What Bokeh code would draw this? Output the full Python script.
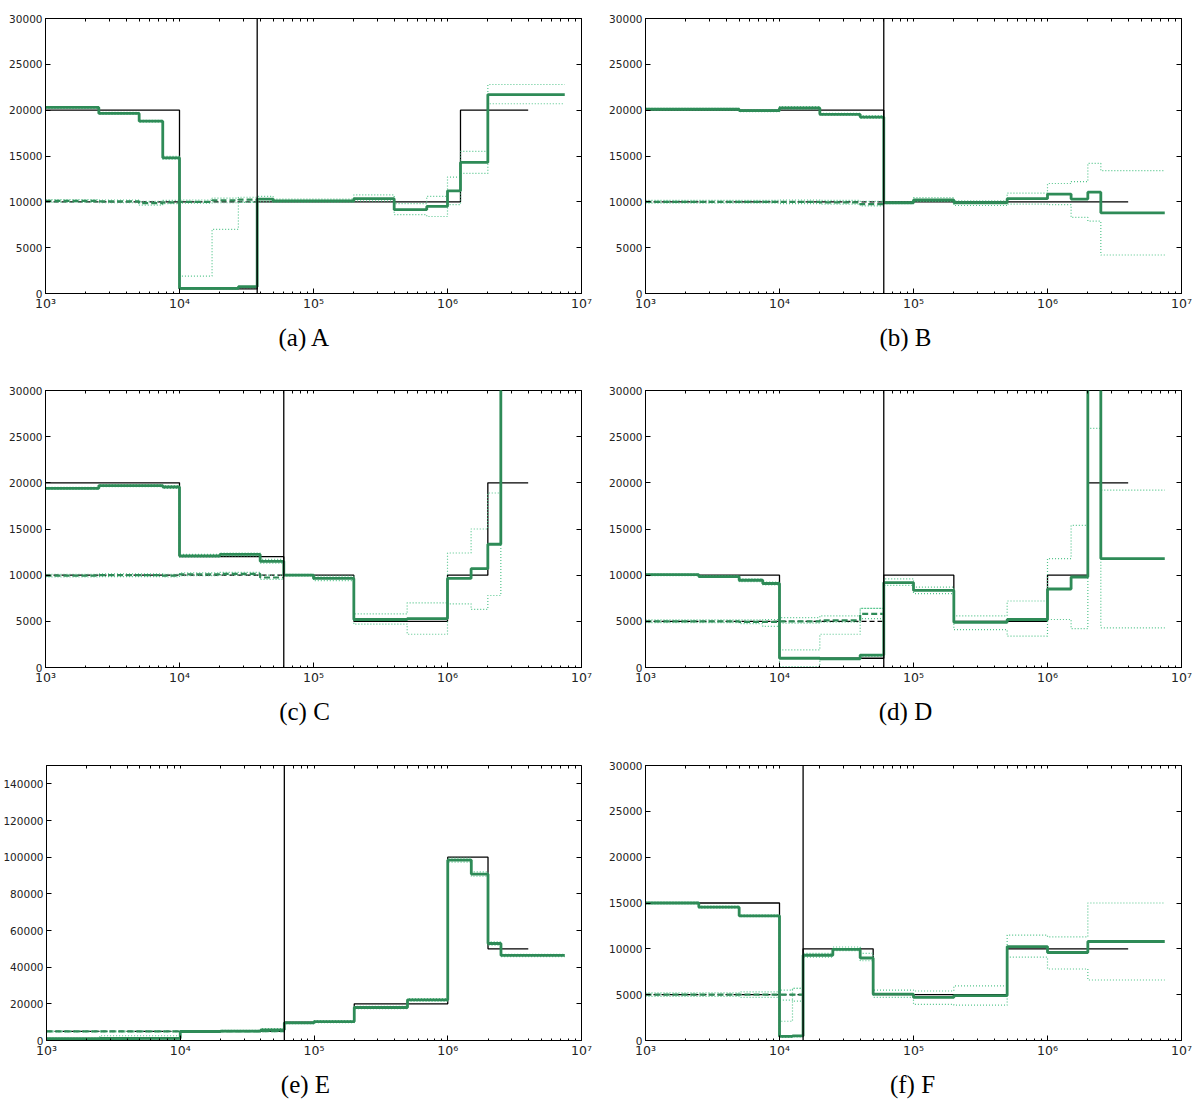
from bokeh.plotting import figure
from bokeh.models import Range1d, LogAxis, LinearAxis, FixedTicker, NumeralTickFormatter, Span, Title
from bokeh.layouts import column, row
from bokeh.embed import file_html
from bokeh.resources import INLINE

# ---------------- axis ticks ----------------
X_MAJOR = [1e3, 1e4, 1e5, 1e6, 1e7]
X_LABELS = ["10³", "10⁴", "10⁵", "10⁶", "10⁷"]
X_MINOR = [m * 10 ** e for e in range(3, 7) for m in range(2, 10)]
Y_TICKS_30K = [0, 5000, 10000, 15000, 20000, 25000, 30000]
Y_TICKS_150K = [0, 20000, 40000, 60000, 80000, 100000, 120000, 140000]

# ---------------- panel A ----------------
A_split = 3.8e4
A_true_edges = [1e3, 1e4, 3.8e4, 1.25e6, 4e6]
A_true_vals = [20000, 500, 10000, 20000]
A_true2_vals = [10000]
A_edges = [1e3, 2.5e3, 5e3, 7.5e3, 1e4, 1.75e4, 2.75e4, 3.8e4, 5e4, 2e5, 4e5, 7e5, 1e6, 1.25e6, 2e6, 7.5e6]
A_est = [20300, 19650, 18800, 14800, 550, 550, 750, 10300, 10100, 10350, 9150, 9500, 11200, 14300, 21700]
A_hi = [20400, 19750, 18900, 14950, 1900, 7000, 10000, 10600, 10300, 10750, 9800, 10600, 12700, 15500, 22800]
A_lo = [20200, 19550, 18700, 14650, 450, 450, 650, 10000, 9950, 10100, 8600, 8400, 9700, 13100, 20700]
A_est2 = [10100, 10050, 9850, 9950, 10000, 10150, 10250]
A_hi2 = [10250, 10200, 10050, 10150, 10200, 10400, 10500]
A_lo2 = [9950, 9900, 9650, 9800, 9850, 9900, 9950]

# ---------------- panel B ----------------
B_split = 6e4
B_true_edges = [1e3, 6e4, 4e6]
B_true_vals = [20000, 10000]
B_true2_vals = [10000]
B_edges = [1e3, 5e3, 1e4, 2e4, 4e4, 6e4, 1e5, 2e5, 5e5, 1e6, 1.5e6, 2e6, 2.5e6, 7.5e6]
B_est = [20100, 19950, 20250, 19550, 19250, 9900, 10200, 9900, 10350, 10850, 10300, 11050, 8800]
B_hi = [20200, 20050, 20400, 19650, 19400, 10000, 10450, 10100, 10950, 12000, 12200, 14200, 13400]
B_lo = [20000, 19850, 20100, 19450, 19100, 9800, 10050, 9600, 9750, 9700, 8300, 7900, 4200]
B_est2 = [10000, 10000, 10000, 9950, 9750]
B_hi2 = [10150, 10150, 10200, 10150, 10050]
B_lo2 = [9850, 9850, 9800, 9750, 9550]

# ---------------- panel C ----------------
C_split = 6e4
C_true_edges = [1e3, 1e4, 6e4, 2e5, 1e6, 2e6, 4e6]
C_true_vals = [20000, 12000, 10000, 5000, 10000, 20000]
C_true2_vals = [10000]
C_edges = [1e3, 2.5e3, 7.5e3, 1e4, 2e4, 4e4, 6e4, 1e5, 2e5, 5e5, 1e6, 1.5e6, 2e6, 2.5e6, 7.5e6]
C_est = [19400, 19700, 19550, 12100, 12250, 11500, 10000, 9650, 5200, 5300, 9650, 10700, 13350, 60000]
C_hi = [19500, 19800, 19700, 12250, 12400, 11700, 10100, 9900, 5800, 7000, 12400, 15000, 18900, 80000]
C_lo = [19300, 19600, 19400, 11950, 12100, 11300, 9900, 9400, 4700, 3600, 6900, 6300, 7800, 45000]
C_est2 = [9950, 10000, 9950, 10100, 10150, 9750]
C_hi2 = [10100, 10150, 10100, 10250, 10300, 10000]
C_lo2 = [9800, 9850, 9800, 9950, 10000, 9550]

# ---------------- panel D ----------------
D_split = 6e4
D_true_edges = [1e3, 1e4, 6e4, 2e5, 1e6, 2e6, 4e6]
D_true_vals = [10000, 1000, 10000, 5000, 10000, 20000]
D_true2_vals = [5000]
D_edges = [1e3, 2.5e3, 5e3, 7.5e3, 1e4, 2e4, 4e4, 6e4, 1e5, 2e5, 5e5, 1e6, 1.5e6, 2e6, 2.5e6, 7.5e6]
D_est = [10050, 9850, 9450, 9100, 1000, 950, 1350, 9200, 8350, 4900, 5200, 8500, 9800, 60000, 11800]
D_hi = [10150, 9950, 9600, 9250, 1900, 3600, 6400, 9600, 8700, 5600, 7200, 11800, 15400, 90000, 19200]
D_lo = [9950, 9750, 9300, 8950, 100, 900, 1200, 8900, 8000, 4100, 3400, 5200, 4200, 25900, 4300]
D_est2 = [5000, 5000, 4950, 4950, 5000, 5100, 5800]
D_hi2 = [5150, 5150, 5150, 5200, 5400, 5600, 6400]
D_lo2 = [4850, 4850, 4750, 4450, 4800, 4900, 5300]

# ---------------- panel E ----------------
E_split = 6e4
E_true_edges = [1e3, 1e4, 6e4, 2e5, 1e6, 2e6, 4e6]
E_true_vals = [1000, 5000, 10000, 20000, 100000, 50000]
E_true2_vals = [5000]
E_edges = [1e3, 2.5e3, 5e3, 1e4, 2e4, 4e4, 6e4, 1e5, 2e5, 5e5, 1e6, 1.5e6, 2e6, 2.5e6, 7.5e6]
E_est = [1000, 1100, 1200, 4900, 5100, 5800, 9600, 10300, 18000, 22200, 98400, 90800, 52900, 46400]
E_hi = [1300, 2600, 2600, 5300, 5500, 6500, 10200, 10900, 18600, 22900, 99500, 92000, 53800, 47000]
E_lo = [800, 800, 900, 4600, 4800, 5300, 9200, 9800, 17400, 21500, 97300, 89600, 52000, 45800]
E_est2 = [5000, 5000, 5000, 5000, 5050, 5100]
E_hi2 = [5300, 5300, 5300, 5300, 5400, 5500]
E_lo2 = [4700, 4700, 4700, 4700, 4700, 4800]

# ---------------- panel F ----------------
F_split = 1.5e4
F_true_edges = [1e3, 1e4, 1.5e4, 5e4, 5e5, 4e6]
F_true_vals = [15000, 500, 10000, 5000, 10000]
F_true2_vals = [5000]
F_edges = [1e3, 2.5e3, 5e3, 1e4, 1.25e4, 1.5e4, 2.5e4, 4e4, 5e4, 1e5, 2e5, 5e5, 1e6, 2e6, 7.5e6]
F_est = [15000, 14550, 13600, 450, 500, 9300, 9950, 9000, 5050, 4700, 4900, 10250, 9600, 10800]
F_hi = [15100, 14650, 13700, 2100, 5700, 9500, 10200, 9500, 5500, 5400, 5950, 11500, 11300, 15000]
F_lo = [14900, 14450, 13500, 350, 400, 9100, 9800, 8700, 4700, 3950, 3850, 9100, 7800, 6600]
F_est2 = [5000, 5000, 5000, 5000, 5000]
F_hi2 = [5200, 5200, 5300, 5500, 5700]
F_lo2 = [4800, 4800, 4700, 4400, 4300]

# ---------------- styling ----------------
GREEN = "#2e8b57"
GREEN_LIGHT = "#52c48a"
TICK_FONT = "DejaVu Sans"
CAP_FONT = "Liberation Serif"
CAP_SIZE = 25
# approximate advance widths (em) of the serif caption glyphs, used only to centre captions
CAP_EM = {"(": 0.333, ")": 0.333, " ": 0.25, "a": 0.444, "b": 0.5, "c": 0.444, "d": 0.5,
          "e": 0.444, "f": 0.333, "A": 0.722, "B": 0.667, "C": 0.667, "D": 0.722,
          "E": 0.611, "F": 0.556}


def step_xy(edges, vals):
    return list(edges[: len(vals) + 1]), list(vals) + [vals[-1]]


def make_panel(caption, split, t_edges, t_vals, t2_vals, edges, est, hi, lo,
               est2, hi2, lo2, ymax, yticks, width, height, bt, bb, cap_center):
    FW = 536
    bl = 45
    p = figure(width=width, height=height, x_axis_type="log",
               x_range=Range1d(1e3, 1e7), y_range=Range1d(0, ymax),
               output_backend="svg", toolbar_location=None,
               min_border_left=bl, min_border_right=width - bl - FW,
               min_border_top=bt, min_border_bottom=bb)
    p.grid.visible = False
    p.outline_line_color = "black"
    p.outline_line_width = 1

    # bottom axis
    xa = p.xaxis[0]
    xa.ticker = FixedTicker(ticks=X_MAJOR, minor_ticks=X_MINOR)
    xa.major_label_overrides = {int(t): lab for t, lab in zip(X_MAJOR, X_LABELS)}
    xa.major_tick_in = 5
    xa.major_tick_out = 0
    xa.minor_tick_in = 2
    xa.minor_tick_out = 0
    xa.major_label_standoff = 2
    xa.major_label_text_font = TICK_FONT
    xa.major_label_text_font_size = "12.5px"
    xa.major_label_text_color = "#222222"
    xa.axis_line_color = "black"

    # left axis
    ya = p.yaxis[0]
    ya.ticker = FixedTicker(ticks=yticks, minor_ticks=[])
    ya.formatter = NumeralTickFormatter(format="0")
    ya.major_tick_in = 5
    ya.major_tick_out = 0
    ya.minor_tick_in = 0
    ya.minor_tick_out = 0
    ya.major_label_standoff = 3
    ya.major_label_text_font = TICK_FONT
    ya.major_label_text_font_size = "10.5px"
    ya.major_label_text_color = "#222222"
    ya.axis_line_color = "black"

    # mirrored tick marks (no labels) on top and right
    top = LogAxis(ticker=FixedTicker(ticks=[], minor_ticks=X_MAJOR + X_MINOR),
                  axis_line_color=None, minor_tick_in=3, minor_tick_out=0,
                  major_tick_in=0, major_tick_out=0)
    p.add_layout(top, "above")
    right = LinearAxis(ticker=FixedTicker(ticks=[], minor_ticks=yticks),
                       axis_line_color=None, minor_tick_in=5, minor_tick_out=0,
                       major_tick_in=0, major_tick_out=0)
    p.add_layout(right, "right")

    # true histories (black)
    x, y = step_xy(t_edges, t_vals)
    p.step(x, y, mode="after", line_color="black", line_width=1.3)
    x, y = step_xy([t_edges[0], split], t2_vals)
    p.step(x, y, mode="after", line_color="black", line_width=1.3, line_dash="5 3")

    # confidence bounds (dotted light green)
    for arr in (hi, lo, hi2, lo2):
        x, y = step_xy(edges, arr)
        p.step(x, y, mode="after", line_color=GREEN_LIGHT, line_width=1.2, line_dash="1 2")

    # second population estimate (dashed green)
    x, y = step_xy(edges, est2)
    p.step(x, y, mode="after", line_color=GREEN, line_width=2.2, line_dash="6 3")

    # main estimate (thick green)
    x, y = step_xy(edges, est)
    p.step(x, y, mode="after", line_color=GREEN, line_width=2.8)

    # split time
    p.add_layout(Span(location=split, dimension="height", line_color="black", line_width=1.3))

    text_w = sum(CAP_EM.get(ch, 0.5) for ch in caption) * CAP_SIZE
    cap = Title(text=caption, align="left", text_font=CAP_FONT,
                text_font_size=f"{CAP_SIZE}px", text_font_style="normal", text_color="black",
                offset=cap_center - bl - text_w / 2, standoff=17)
    p.add_layout(cap, "below")
    return p


LW, RW = 600, 592
pA = make_panel("(a) A", A_split, A_true_edges, A_true_vals, A_true2_vals, A_edges, A_est, A_hi, A_lo,
                A_est2, A_hi2, A_lo2, 30000, Y_TICKS_30K, LW, 380, 18, 87, 304)
pB = make_panel("(b) B", B_split, B_true_edges, B_true_vals, B_true2_vals, B_edges, B_est, B_hi, B_lo,
                B_est2, B_hi2, B_lo2, 30000, Y_TICKS_30K, RW, 380, 18, 87, 305)
pC = make_panel("(c) C", C_split, C_true_edges, C_true_vals, C_true2_vals, C_edges, C_est, C_hi, C_lo,
                C_est2, C_hi2, C_lo2, 30000, Y_TICKS_30K, LW, 375, 10, 88, 304)
pD = make_panel("(d) D", D_split, D_true_edges, D_true_vals, D_true2_vals, D_edges, D_est, D_hi, D_lo,
                D_est2, D_hi2, D_lo2, 30000, Y_TICKS_30K, RW, 375, 10, 88, 305)
pE = make_panel("(e) E", E_split, E_true_edges, E_true_vals, E_true2_vals, E_edges, E_est, E_hi, E_lo,
                E_est2, E_hi2, E_lo2, 150000, Y_TICKS_150K, LW, 353, 10, 68, 304)
pF = make_panel("(f) F", F_split, F_true_edges, F_true_vals, F_true2_vals, F_edges, F_est, F_hi, F_lo,
                F_est2, F_hi2, F_lo2, 30000, Y_TICKS_30K, RW, 353, 10, 68, 312)

layout = column(row(pA, pB), row(pC, pD), row(pE, pF))
open("out.html", "w").write(file_html(layout, INLINE))
